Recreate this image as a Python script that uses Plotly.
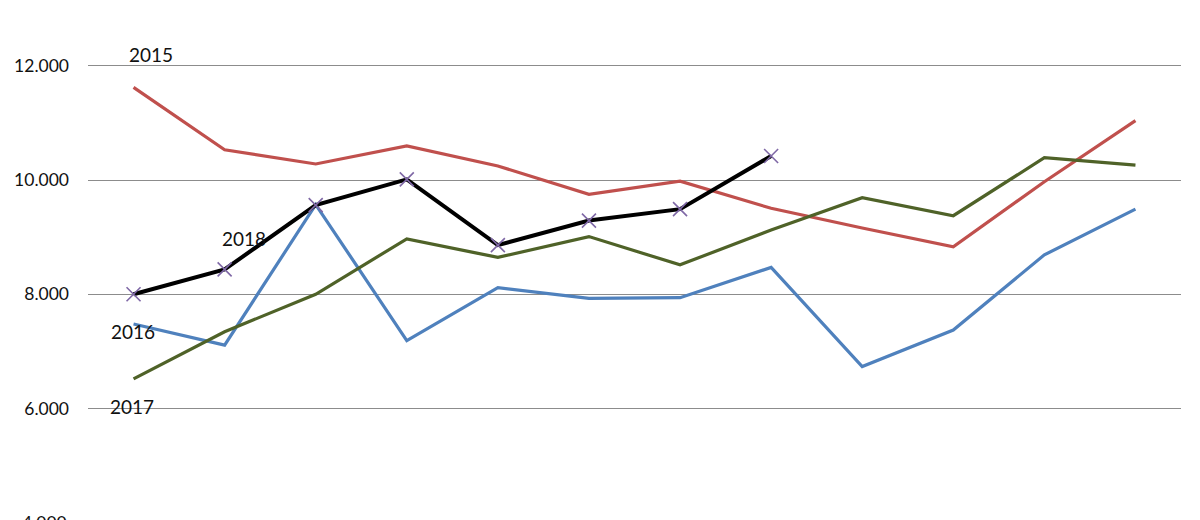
import plotly.graph_objects as go

months = ["Jan", "Feb", "Mar", "Apr", "May", "Jun",
          "Jul", "Aug", "Sep", "Oct", "Nov", "Dec"]

v2015 = [11620, 10530, 10280, 10595, 10245, 9750, 9980, 9505, 9160, 8830, 9970, 11040]
v2016 = [7480, 7110, 9570, 7190, 8115, 7930, 7940, 8470, 6735, 7375, 8690, 9490]
v2017 = [6520, 7345, 8000, 8970, 8645, 9010, 8515, 9125, 9690, 9375, 10390, 10260]
v2018 = [8000, 8435, 9560, 10010, 8860, 9290, 9490, 10420]

y_ticks = [4000, 6000, 8000, 10000, 12000]
y_range = [4050, 13010]

FONT = "Lato, Calibri, 'Open Sans', sans-serif"

fig = go.Figure()
series = [
    ("2015", v2015, "#C0504D", 3.2),
    ("2016", v2016, "#4F81BD", 3.2),
    ("2017", v2017, "#4F6228", 3.2),
]
for name, vals, color, w in series:
    fig.add_trace(go.Scatter(
        x=months[:len(vals)], y=vals, name=name, mode="lines",
        line=dict(color=color, width=w),
    ))

fig.add_trace(go.Scatter(
    x=months[:len(v2018)], y=v2018, name="2018", mode="lines+markers",
    line=dict(color="#000000", width=4),
    marker=dict(symbol="x-thin-open", size=14, color="#7F68A6",
                line=dict(color="#7F68A6", width=1.6)),
))

# series labels placed next to the lines
labels = [
    ("2015", months[0], 12190, -7),
    ("2016", months[0], 7345, -25),
    ("2017", months[0], 6030, -26),
    ("2018", months[1], 8985, -5),
]
for text, xc, yv, shift in labels:
    fig.add_annotation(
        x=xc, y=yv, text=text, showarrow=False, xanchor="left",
        yanchor="middle", xshift=shift,
        font=dict(family=FONT, size=19, color="#111111"),
    )

# bottom tick label sits just below the visible frame
frac = (y_ticks[0] - y_range[0]) / (y_range[1] - y_range[0])
fig.add_annotation(
    x=0, xref="paper", y=frac, yref="paper", text="4.000",
    showarrow=False, xanchor="right", yanchor="middle", xshift=-19,
    font=dict(family=FONT, size=17.5, color="#111111"),
)

# page body keeps its default 8px margin, so the figure is sized to fit
fig.update_layout(
    width=1192, height=512,
    margin=dict(l=80, r=19, t=0, b=0, autoexpand=False),
    paper_bgcolor="white", plot_bgcolor="white",
    showlegend=False,
    separators=",.",
    font=dict(family=FONT, size=17.5, color="#111111"),
)
fig.update_xaxes(
    type="category", range=[-0.5, 11.5],
    showticklabels=False, showgrid=False, zeroline=False, showline=False,
)
fig.update_yaxes(
    range=y_range, tickvals=y_ticks[1:], tickformat=",d",
    showgrid=True, gridcolor="#8C8C8C", gridwidth=1,
    zeroline=False, showline=False, ticks="", ticklabelstandoff=18,
)

fig.write_html("out.html")
